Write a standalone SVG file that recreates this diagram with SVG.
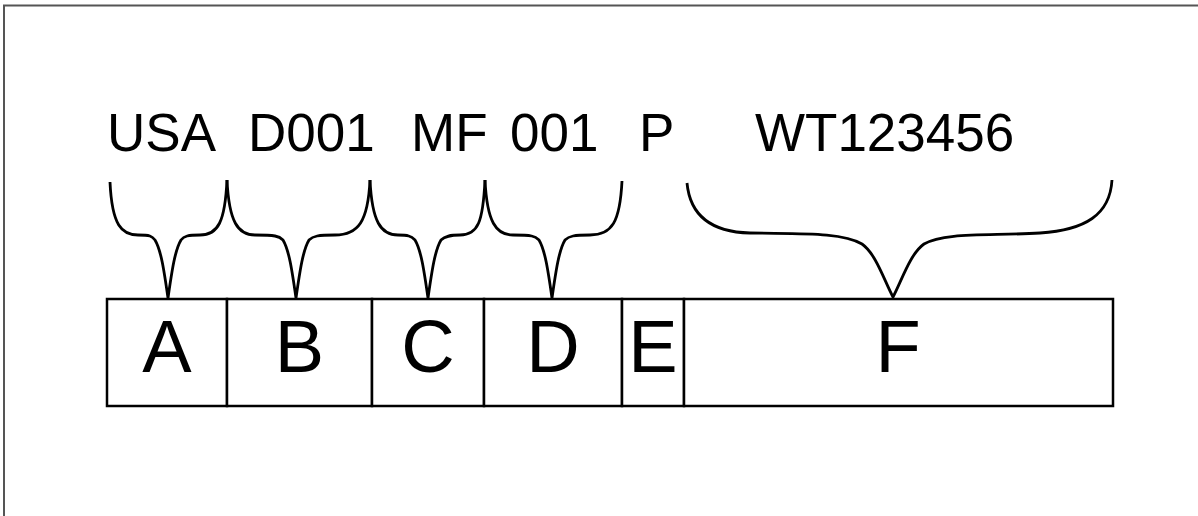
<svg xmlns="http://www.w3.org/2000/svg" width="1198" height="516" viewBox="0 0 1198 516">
<style>
.frame{fill:none;stroke:#555;stroke-width:2}
.cell{fill:#fff;stroke:#000;stroke-width:2.5}
.brace{fill:none;stroke:#000;stroke-width:2.8;stroke-linejoin:round}
.code{font-family:"Liberation Sans",Arial,sans-serif;font-size:53px;fill:#000}
.letter{font-family:"Liberation Sans",Arial,sans-serif;font-size:74px;fill:#000;text-anchor:middle}
</style>
<rect class="frame" x="4" y="5.5" width="1220" height="540"/>
<g id="labels">
<text class="code" x="107" y="151">USA</text>
<text class="code" x="248" y="151">D001</text>
<text class="code" x="411" y="151">MF</text>
<text class="code" x="510" y="151">001</text>
<text class="code" x="639" y="151">P</text>
<text class="code" x="755" y="151">WT123456</text>
</g>
<g id="connectors">
<path class="brace" d="M110 182 C112 226 122 235 138 235 C150 235 152 236 155 240 C161 250 164 270 168 298 C172 270 175 250 181 240 C184 236 188 235 200 235 C218 235 225 222 227 180"/>
<path class="brace" d="M227 180 C229 222 238 235 255 235 C275 235 279 236 283 240 C289 250 292 270 296 298 C300 270 303 250 309 240 C313 236 318 235 335 235 C358 235 368 222 370 180"/>
<path class="brace" d="M370 180 C372 222 381 235 398 235 C408 235 411 236 415 240 C421 250 424 270 428 298 C432 270 435 250 441 240 C445 236 450 235 460 235 C478 235 483 222 485 180"/>
<path class="brace" d="M485 180 C487 222 496 235 513 235 C532 235 535 236 539 240 C545 250 548 270 552 298 C556 270 559 250 565 240 C569 236 574 235 590 235 C612 235 620 222 622 181"/>
<path class="brace" d="M687 183 C690 215 710 232 750 233 C800 234 842 232 862 244 C876 254 884 280 893 297 C902 280 910 254 924 244 C944 232 990 236 1040 233 C1085 230 1110 215 1112 180"/>
</g>
<g id="node-A"><rect class="cell" x="107" y="299" width="120" height="107"/><text class="letter" x="167" y="372">A</text></g>
<g id="node-B"><rect class="cell" x="227" y="299" width="145" height="107"/><text class="letter" x="299.5" y="372">B</text></g>
<g id="node-C"><rect class="cell" x="372" y="299" width="112" height="107"/><text class="letter" x="428" y="372">C</text></g>
<g id="node-D"><rect class="cell" x="484" y="299" width="138" height="107"/><text class="letter" x="553" y="372">D</text></g>
<g id="node-E"><rect class="cell" x="622" y="299" width="62" height="107"/><text class="letter" x="653" y="372">E</text></g>
<g id="node-F"><rect class="cell" x="684" y="299" width="429" height="107"/><text class="letter" x="898" y="372">F</text></g>
</svg>
